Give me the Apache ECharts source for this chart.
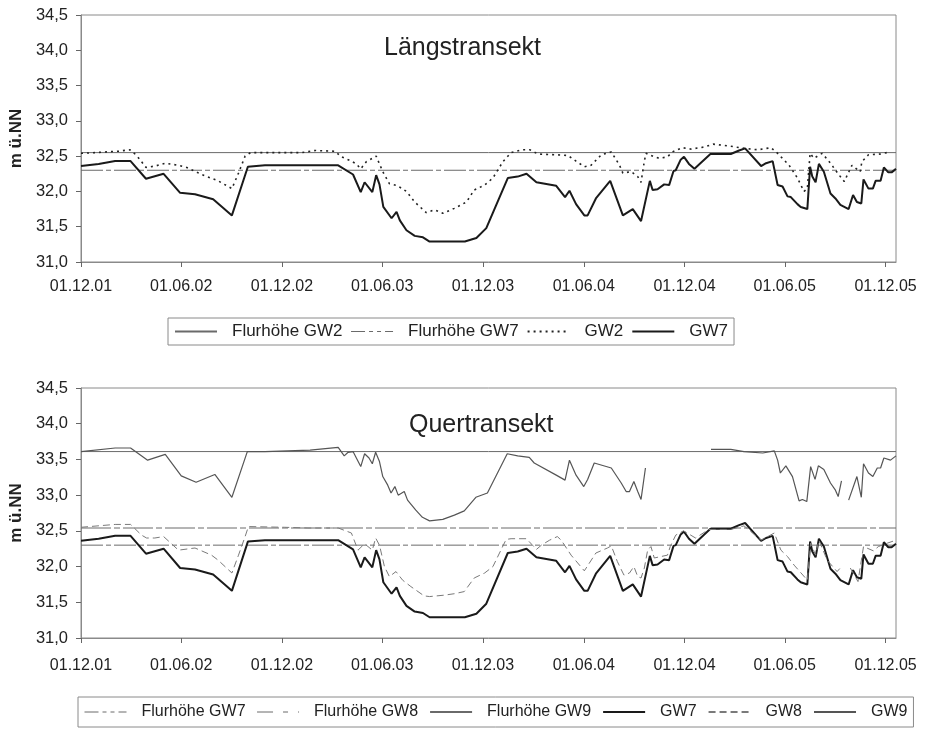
<!DOCTYPE html>
<html lang="de">
<head>
    <meta charset="UTF-8">
    <script src="https://cdn.jsdelivr.net/npm/echarts@6/dist/echarts.min.js"></script>
    <style>
        html, body {margin:0; padding:0; background:#fff;}
        #chart {width:928px; height:729px;}
    </style>
    <title>Längstransekt / Quertransekt</title>
</head>
<body>
<div id="chart"></div>
<script>
    // x-Achse
    const xStart = '2001-12-01';
    const xEnd = '2005-12-20';
    const tickDates = ['2001-12-01','2002-06-01','2002-12-01','2003-06-01','2003-12-01',
                       '2004-06-01','2004-12-01','2005-06-01','2005-12-01'];

    // Flurhöhen (m ü.NN)
    const flurGW2 = 32.55;
    const flurGW7 = 32.30;
    const flurGW8 = 32.54;
    const flurGW9 = 33.61;

    // Grundwasserstände
    const gw2 = [
        ['2001-12-01',32.54],['2001-12-27',32.55],['2002-02-07',32.57],['2002-02-28',32.59],['2002-03-12',32.51],
        ['2002-03-29',32.34],['2002-04-15',32.36],['2002-05-03',32.40],['2002-05-27',32.37],['2002-06-11',32.34],
        ['2002-07-08',32.24],['2002-08-07',32.15],['2002-09-01',32.04],['2002-09-13',32.26],['2002-09-25',32.50],
        ['2002-10-05',32.55],['2003-01-06',32.55],['2003-01-30',32.58],['2003-03-07',32.57],['2003-03-19',32.49],
        ['2003-04-03',32.44],['2003-04-15',32.39],['2003-04-23',32.32],['2003-05-03',32.42],['2003-05-21',32.50],
        ['2003-06-02',32.28],['2003-06-14',32.11],['2003-06-29',32.08],['2003-07-15',32.00],['2003-07-30',31.85],
        ['2003-08-20',31.70],['2003-09-04',31.74],['2003-09-19',31.69],['2003-10-10',31.76],['2003-11-01',31.85],
        ['2003-11-15',32.02],['2003-12-04',32.09],['2003-12-19',32.19],['2004-01-06',32.42],['2004-01-21',32.55],
        ['2004-02-09',32.59],['2004-02-24',32.59],['2004-03-10',32.53],['2004-04-09',32.52],['2004-05-03',32.51],
        ['2004-05-18',32.43],['2004-06-02',32.35],['2004-06-14',32.37],['2004-07-03',32.52],['2004-07-21',32.56],
        ['2004-08-05',32.37],['2004-08-11',32.26],['2004-08-26',32.28],['2004-09-07',32.21],['2004-09-13',32.13],
        ['2004-09-19',32.43],['2004-09-22',32.54],['2004-10-07',32.49],['2004-10-16',32.47],['2004-10-31',32.49],
        ['2004-11-09',32.56],['2004-11-27',32.62],['2004-12-12',32.60],['2005-01-06',32.63],['2005-01-22',32.67],
        ['2005-02-23',32.64],['2005-03-19',32.61],['2005-04-13',32.59],['2005-05-07',32.62],['2005-05-19',32.54],
        ['2005-06-09',32.37],['2005-06-24',32.19],['2005-07-06',32.00],['2005-07-12',32.04],['2005-07-17',32.54],
        ['2005-07-24',32.47],['2005-08-08',32.54],['2005-08-23',32.40],['2005-09-05',32.26],['2005-09-17',32.14],
        ['2005-10-01',32.37],['2005-10-16',32.28],['2005-10-19',32.42],['2005-10-31',32.52],['2005-11-22',32.53],
        ['2005-12-09',32.56]
    ];
    const gw7 = [
        ['2001-12-01',32.36],['2002-01-02',32.39],['2002-02-01',32.43],['2002-03-01',32.43],['2002-03-29',32.18],
        ['2002-04-30',32.25],['2002-05-30',31.98],['2002-06-26',31.96],['2002-07-29',31.89],['2002-09-01',31.66],
        ['2002-09-30',32.35],['2002-10-31',32.37],['2002-12-15',32.37],['2003-01-31',32.37],['2003-03-13',32.37],
        ['2003-04-09',32.24],['2003-04-23',31.99],['2003-04-30',32.13],['2003-05-14',31.99],['2003-05-21',32.23],
        ['2003-05-27',32.10],['2003-06-03',31.78],['2003-06-18',31.62],['2003-06-27',31.71],['2003-07-03',31.59],
        ['2003-07-15',31.45],['2003-07-30',31.37],['2003-08-14',31.35],['2003-08-26',31.29],['2003-09-25',31.29],
        ['2003-10-29',31.29],['2003-11-19',31.34],['2003-12-07',31.48],['2004-01-15',32.19],['2004-02-02',32.21],
        ['2004-02-18',32.25],['2004-03-07',32.13],['2004-04-12',32.08],['2004-04-28',31.92],['2004-05-06',32.01],
        ['2004-05-18',31.82],['2004-06-02',31.66],['2004-06-08',31.66],['2004-06-23',31.90],['2004-07-19',32.15],
        ['2004-08-11',31.66],['2004-08-29',31.75],['2004-09-13',31.58],['2004-09-29',32.15],['2004-10-04',32.02],
        ['2004-10-13',32.03],['2004-10-25',32.10],['2004-11-03',32.09],['2004-11-11',32.29],['2004-11-15',32.30],
        ['2004-11-24',32.45],['2004-11-30',32.49],['2004-12-09',32.39],['2004-12-19',32.32],['2005-01-17',32.53],
        ['2005-02-23',32.53],['2005-03-10',32.58],['2005-03-21',32.61],['2005-04-19',32.36],['2005-04-28',32.40],
        ['2005-05-10',32.43],['2005-05-19',32.09],['2005-05-28',32.07],['2005-06-06',31.93],['2005-06-12',31.92],
        ['2005-06-24',31.82],['2005-06-30',31.78],['2005-07-12',31.75],['2005-07-17',32.35],['2005-07-21',32.21],
        ['2005-07-27',32.13],['2005-08-02',32.39],['2005-08-11',32.28],['2005-08-23',31.97],['2005-09-01',31.90],
        ['2005-09-10',31.81],['2005-09-25',31.75],['2005-10-03',31.95],['2005-10-10',31.85],['2005-10-18',31.83],
        ['2005-10-22',32.17],['2005-10-31',32.04],['2005-11-08',32.04],['2005-11-13',32.15],['2005-11-22',32.15],
        ['2005-11-28',32.34],['2005-12-06',32.27],['2005-12-12',32.27],['2005-12-20',32.32]
    ];
    const gw8 = [
        ['2001-12-01',32.55],['2002-02-01',32.59],['2002-03-01',32.59],['2002-03-21',32.44],['2002-03-30',32.40],
        ['2002-04-14',32.40],['2002-04-30',32.42],['2002-05-27',32.23],['2002-06-26',32.26],['2002-07-26',32.16],
        ['2002-08-07',32.09],['2002-09-01',31.91],['2002-09-13',32.16],['2002-09-25',32.42],['2002-10-01',32.56],
        ['2002-12-06',32.55],['2003-01-17',32.54],['2003-03-13',32.54],['2003-04-06',32.47],['2003-04-18',32.23],
        ['2003-04-30',32.32],['2003-05-14',32.23],['2003-05-20',32.40],['2003-05-27',32.30],['2003-06-05',32.00],
        ['2003-06-14',31.86],['2003-06-26',31.93],['2003-07-08',31.81],['2003-07-23',31.72],['2003-08-16',31.59],
        ['2003-08-26',31.58],['2003-09-22',31.60],['2003-10-10',31.62],['2003-10-28',31.65],['2003-11-15',31.84],
        ['2003-12-04',31.91],['2003-12-19',32.00],['2004-01-12',32.38],['2004-01-21',32.39],['2004-02-18',32.39],
        ['2004-03-07',32.24],['2004-03-16',32.30],['2004-03-31',32.37],['2004-04-14',32.42],['2004-04-21',32.37],
        ['2004-05-09',32.16],['2004-06-02',31.94],['2004-06-23',32.19],['2004-07-14',32.26],['2004-07-21',32.29],
        ['2004-08-01',32.07],['2004-08-13',31.88],['2004-08-23',31.91],['2004-08-31',32.00],['2004-09-07',31.86],
        ['2004-09-13',31.84],['2004-09-19',31.98],['2004-09-25',32.23],['2004-10-01',32.28],['2004-10-07',32.12],
        ['2004-10-31',32.16],['2004-11-05',32.28],['2004-11-15',32.44],['2004-11-29',32.50],['2004-12-21',32.40],
        ['2005-01-14',32.52],['2005-02-23',32.52],['2005-03-19',32.57],['2005-04-19',32.37],['2005-05-13',32.47],
        ['2005-05-25',32.23],['2005-06-06',32.14],['2005-06-18',32.02],['2005-07-12',31.81],['2005-07-18',32.33],
        ['2005-07-27',32.16],['2005-08-02',32.37],['2005-08-17',32.09],['2005-09-04',31.93],['2005-09-11',31.99],
        ['2005-09-19',null],
        ['2005-09-28',31.98],['2005-10-12',31.79],['2005-10-22',32.28],['2005-11-09',32.22],['2005-11-18',32.28],
        ['2005-12-05',32.33],['2005-12-20',32.37]
    ];
    const gw9 = [
        ['2001-12-01',33.61],['2002-02-01',33.66],['2002-03-01',33.66],['2002-04-01',33.49],['2002-05-03',33.57],
        ['2002-06-01',33.27],['2002-06-28',33.18],['2002-08-01',33.29],['2002-09-01',32.97],['2002-09-29',33.61],
        ['2002-10-31',33.61],['2003-01-21',33.63],['2003-03-13',33.67],['2003-03-24',33.55],['2003-03-31',33.60],
        ['2003-04-09',33.61],['2003-04-15',33.52],['2003-04-23',33.40],['2003-04-30',33.58],['2003-05-08',33.52],
        ['2003-05-14',33.44],['2003-05-20',33.60],['2003-05-27',33.47],['2003-06-02',33.26],['2003-06-11',33.14],
        ['2003-06-17',33.03],['2003-06-24',33.12],['2003-06-30',33.00],['2003-07-11',33.05],['2003-07-17',32.93],
        ['2003-08-01',32.79],['2003-08-13',32.69],['2003-08-26',32.64],['2003-09-19',32.66],['2003-10-10',32.72],
        ['2003-10-28',32.78],['2003-11-18',32.97],['2003-12-09',33.03],['2004-01-14',33.58],['2004-02-02',33.55],
        ['2004-02-23',33.53],['2004-03-03',33.45],['2004-04-12',33.28],['2004-04-28',33.21],['2004-05-06',33.49],
        ['2004-05-18',33.28],['2004-06-01',33.12],['2004-06-08',33.22],['2004-06-20',33.45],['2004-07-21',33.38],
        ['2004-08-08',33.17],['2004-08-17',33.05],['2004-08-23',33.05],['2004-08-31',33.19],['2004-09-07',33.05],
        ['2004-09-13',32.94],['2004-09-21',33.38],
        ['2004-11-15',null],
        ['2005-01-18',33.64],['2005-02-23',33.64],['2005-03-19',33.61],['2005-04-22',33.59],['2005-05-13',33.62],
        ['2005-05-19',33.49],['2005-05-24',33.31],['2005-06-03',33.41],['2005-06-15',33.26],['2005-06-27',32.92],
        ['2005-07-03',32.94],['2005-07-11',32.91],['2005-07-18',33.40],['2005-07-26',33.22],['2005-08-01',33.41],
        ['2005-08-11',33.36],['2005-08-23',33.17],['2005-09-01',33.07],['2005-09-06',32.98],['2005-09-12',33.20],
        ['2005-09-18',null],
        ['2005-09-25',32.93],['2005-10-10',33.26],['2005-10-18',32.97],['2005-10-22',33.44],['2005-10-31',33.31],
        ['2005-11-08',33.26],['2005-11-16',33.38],['2005-11-22',33.38],['2005-11-28',33.52],['2005-12-10',33.49],
        ['2005-12-20',33.55]
    ];

    // Datum (lokal) -> Zeitstempel
    function ts(s) {
        const p = s.split('-');
        return new Date(+p[0], +p[1] - 1, +p[2]).getTime();
    }
    function pad(n) { return (n < 10 ? '0' : '') + n; }
    function fmtDate(v) {
        const d = new Date(v);
        return pad(d.getDate()) + '.' + pad(d.getMonth() + 1) + '.' + String(d.getFullYear()).slice(2);
    }
    const toPts = arr => arr.map(p => [ts(p[0]), p[1] == null ? '-' : p[1]]);
    const flat = v => [[ts(xStart), v], [ts(xEnd), v]];

    const font = "'Liberation Sans', Arial, sans-serif";
    const ticks = tickDates.map(ts);

    const grids = [
        {left: 80, right: 32, top: 15, height: 247},
        {left: 80, right: 32, top: 388, height: 250}
    ];
    grids.forEach(g => { g.show = true; g.borderColor = '#8a8a8a'; g.borderWidth = 1; });

    function xAxis(i, margin) {
        return {
            type: 'value', gridIndex: i,
            min: ts(xStart), max: ts(xEnd),
            axisLine: {lineStyle: {color: '#8a8a8a'}},
            axisTick: {show: true, length: 5, customValues: ticks, lineStyle: {color: '#666'}},
            axisLabel: {customValues: ticks, formatter: fmtDate, margin: margin,
                        fontSize: 16, color: '#222', fontFamily: font, showMinLabel: true, showMaxLabel: true},
            splitLine: {show: false}
        };
    }
    function yAxis(i) {
        return {
            type: 'value', gridIndex: i,
            min: 31, max: 34.5, interval: 0.5,
            name: 'm ü.NN', nameLocation: 'middle', nameGap: 54,
            nameTextStyle: {fontSize: 17, fontWeight: 'bold', color: '#222', fontFamily: font},
            axisLine: {show: true, lineStyle: {color: '#8a8a8a'}},
            axisTick: {show: true, length: 5, lineStyle: {color: '#666'}},
            axisLabel: {formatter: v => v.toFixed(1).replace('.', ','), margin: 13,
                        fontSize: 16.5, color: '#222', fontFamily: font},
            splitLine: {show: false}
        };
    }

    const styles = {
        'Flurhöhe GW2': {color: '#6a6a6a', width: 1, type: 'solid'},
        'Flurhöhe GW7': {color: '#6a6a6a', width: 1, type: [22, 3, 5, 3]},
        'Flurhöhe GW8': {color: '#6a6a6a', width: 1, type: [30, 3, 6, 3]},
        'Flurhöhe GW9': {color: '#6a6a6a', width: 1, type: 'solid'},
        'GW2': {color: '#222', width: 1.6, type: [2, 4]},
        'GW7': {color: '#1a1a1a', width: 2, type: 'solid'},
        'GW8': {color: '#7a7a7a', width: 1, type: [7, 4]},
        'GW9': {color: '#555', width: 1.2, type: 'solid'}
    };
    function line(name, data, i) {
        return {
            name: name, type: 'line', xAxisIndex: i, yAxisIndex: i,
            data: data, showSymbol: false, symbol: 'none', connectNulls: false,
            lineStyle: styles[name], itemStyle: {color: styles[name].color},
            animation: false, silent: true
        };
    }

    // Legendenmuster wie im Original
    const legendLines = {
        'Flurhöhe GW7': [14, 4, 4, 4, 4, 4],
        'Flurhöhe GW8': [16, 10, 5, 10]
    };
    function legendItems(names) {
        return names.map(n => legendLines[n]
            ? {name: n, lineStyle: Object.assign({}, styles[n], {type: legendLines[n]})}
            : {name: n});
    }

    const legendBase = {
        orient: 'horizontal', itemWidth: 42, itemHeight: 12,
        borderColor: '#8a8a8a', borderWidth: 1,
        selectedMode: false,
        itemStyle: {opacity: 0}
    };

    const chart = echarts.init(document.getElementById('chart'), null, {renderer: 'canvas'});
    chart.setOption({
        backgroundColor: '#fff',
        animation: false,
        title: [
            {text: 'Längstransekt', left: 384, top: 36, padding: 0,
             textStyle: {fontSize: 25, fontWeight: 'normal', color: '#222', fontFamily: font}},
            {text: 'Quertransekt', left: 409, top: 413, padding: 0,
             textStyle: {fontSize: 25, fontWeight: 'normal', color: '#222', fontFamily: font}}
        ],
        grid: grids,
        xAxis: [xAxis(0, 17), xAxis(1, 20)],
        yAxis: [yAxis(0), yAxis(1)],
        legend: [
            Object.assign({}, legendBase, {left: 168, top: 318, itemGap: 8, padding: [5, 6],
                textStyle: {fontSize: 17, color: '#222', fontFamily: font, padding: [0, 0, 0, 10]},
                data: legendItems(['Flurhöhe GW2', 'Flurhöhe GW7', 'GW2', 'GW7'])}),
            Object.assign({}, legendBase, {left: 78, top: 697, itemGap: 11, padding: [7, 6],
                textStyle: {fontSize: 16, color: '#222', fontFamily: font, padding: [0, 0, 0, 10]},
                data: legendItems(['Flurhöhe GW7', 'Flurhöhe GW8', 'Flurhöhe GW9', 'GW7', 'GW8', 'GW9'])})
        ],
        series: [
            line('Flurhöhe GW2', flat(flurGW2), 0),
            line('Flurhöhe GW7', flat(flurGW7), 0),
            line('GW2', toPts(gw2), 0),
            line('GW7', toPts(gw7), 0),
            line('Flurhöhe GW7', flat(flurGW7), 1),
            line('Flurhöhe GW8', flat(flurGW8), 1),
            line('Flurhöhe GW9', flat(flurGW9), 1),
            line('GW7', toPts(gw7), 1),
            line('GW8', toPts(gw8), 1),
            line('GW9', toPts(gw9), 1)
        ]
    });
</script>
</body>
</html>
